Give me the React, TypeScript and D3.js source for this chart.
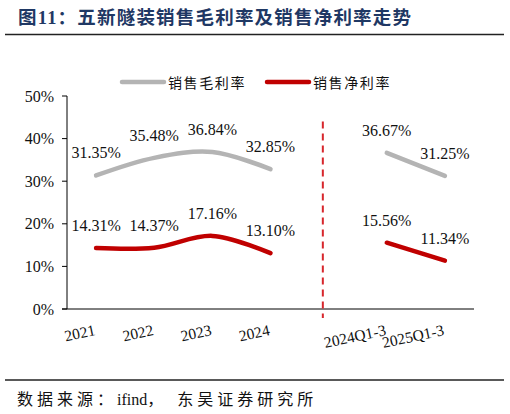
import * as d3 from 'd3';

const categories = ['2021', '2022', '2023', '2024', '', '2024Q1-3', '2025Q1-3'];
const grossMargin: (number | null)[] = [31.35, 35.48, 36.84, 32.85, null, 36.67, 31.25];
const netMargin: (number | null)[] = [14.31, 14.37, 17.16, 13.1, null, 15.56, 11.34];
const yTicks = [0, 10, 20, 30, 40, 50];

const seriesNames = ['销售毛利率', '销售净利率'];
const seriesColors = ['#B4B4B4', '#C00000'];

const W = 510;
const H = 414;
const serif = "'Liberation Serif', 'Times New Roman', 'Noto Sans CJK SC', serif";
const cjk = "'Noto Sans CJK SC', sans-serif";

export default function App() {
  const x = d3.scaleBand().domain(categories.map((c, i) => c || `gap${i}`)).range([67, 474]);
  const y = d3.scaleLinear().domain([0, 50]).range([309, 96]);
  const key = (i: number) => categories[i] || `gap${i}`;
  const cx = (i: number) => (x(key(i)) ?? 0) + x.bandwidth() / 2;

  const line = d3
    .line<number | null>()
    .defined((d) => d != null)
    .x((_, i) => cx(i))
    .y((d) => y(d as number))
    .curve(d3.curveCatmullRom.alpha(0.5));

  const series = [grossMargin, netMargin];
  const gapX = cx(4) - x.bandwidth() * 0.1;

  return (
    <svg
      width={W}
      height={H}
      style={{ position: 'absolute', left: 0, top: 0, background: '#fff' }}
    >
      {/* title */}
      <text
        x={18}
        y={24}
        fontFamily={serif}
        fontWeight="bold"
        fontSize={18.5}
        letterSpacing={1.2}
        fill="#1F3864"
      >
        图11：五新隧装销售毛利率及销售净利率走势
      </text>
      <line x1={5} x2={504} y1={34.5} y2={34.5} stroke="#222" strokeWidth={1.5} />

      {/* legend */}
      {seriesNames.map((name, i) => {
        const lx = 122 + i * 145;
        return (
          <g key={name}>
            <line
              x1={lx}
              x2={lx + 42}
              y1={82}
              y2={82}
              stroke={seriesColors[i]}
              strokeWidth={4.5}
              strokeLinecap="round"
            />
            <text x={lx + 46} y={87.5} fontFamily={cjk} fontSize={14} letterSpacing={1.6} fill="#111">
              {name}
            </text>
          </g>
        );
      })}

      {/* y axis */}
      <line x1={67} x2={67} y1={y(50)} y2={y(0)} stroke="#000" strokeWidth={1} />
      {yTicks.map((t) => (
        <g key={t}>
          <line x1={62} x2={67} y1={y(t)} y2={y(t)} stroke="#000" strokeWidth={1} />
          <text
            x={54}
            y={y(t)}
            dy="0.35em"
            textAnchor="end"
            fontFamily={serif}
            fontSize={16}
            fill="#111"
          >
            {t}%
          </text>
        </g>
      ))}

      {/* x axis */}
      <line x1={62} x2={474} y1={y(0)} y2={y(0)} stroke="#000" strokeWidth={1} />
      {categories.map((c, i) =>
        c ? (
          <text
            key={c}
            transform={`translate(${cx(i)},${y(0) + 26}) rotate(-12)`}
            textAnchor="end"
            fontFamily={serif}
            fontSize={15.5}
            fill="#111"
          >
            {c}
          </text>
        ) : null
      )}

      {/* divider */}
      <line
        x1={gapX}
        x2={gapX}
        y1={y(44)}
        y2={y(0) + 9}
        stroke="#D7262C"
        strokeWidth={2}
        strokeDasharray="7,5"
      />

      {/* lines */}
      {series.map((vals, s) => (
        <path
          key={s}
          d={line(vals) ?? ''}
          fill="none"
          stroke={seriesColors[s]}
          strokeWidth={4.5}
          strokeLinecap="round"
          strokeLinejoin="round"
        />
      ))}

      {/* data labels */}
      {series.map((vals, s) =>
        vals.map((v, i) =>
          v == null ? null : (
            <text
              key={`${s}-${i}`}
              x={cx(i)}
              y={y(v) - 17}
              textAnchor="middle"
              fontFamily={serif}
              fontSize={16}
              fill="#111"
            >
              {v.toFixed(2)}%
            </text>
          )
        )
      )}

      {/* source */}
      <line x1={5} x2={504} y1={380} y2={380} stroke="#222" strokeWidth={1.5} />
      <text x={17} y={405} fontFamily={serif} fontSize={16} fill="#111">
        <tspan letterSpacing={4}>数据来源：</tspan>
        <tspan>ifind</tspan>
        <tspan letterSpacing={4}>，</tspan>
        <tspan dx={10} letterSpacing={4}>东吴证券研究所</tspan>
      </text>
    </svg>
  );
}
